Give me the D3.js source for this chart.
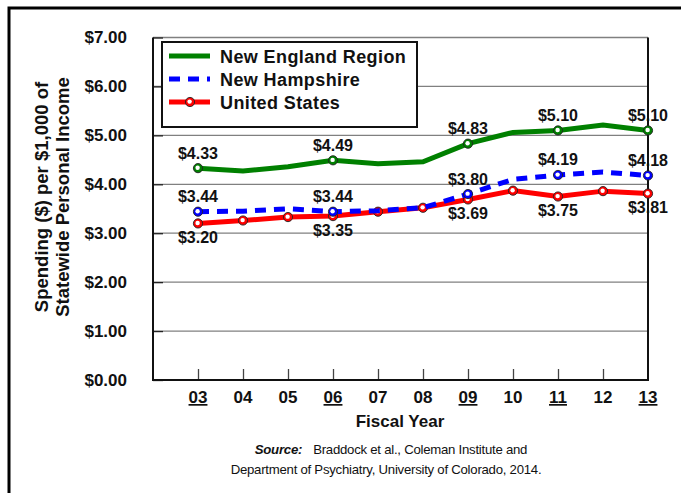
<!DOCTYPE html>
<html>
<head>
<meta charset="utf-8">
<script src="https://cdn.jsdelivr.net/npm/d3@7"></script>
<style>
  body { margin: 0; background: #fff; }
  text { font-family: Arial, "Liberation Sans", sans-serif; }
</style>
</head>
<body>
<div class="chart"></div>
<script>
// fiscal years and spending per $1,000 of personal income
var years = ["03", "04", "05", "06", "07", "08", "09", "10", "11", "12", "13"];
var underlined = ["03", "06", "09", "11", "13"];
var newEngland = [4.33, 4.27, 4.36, 4.49, 4.42, 4.46, 4.83, 5.06, 5.10, 5.21, 5.10];
var newHampshire = [3.44, 3.45, 3.50, 3.44, 3.46, 3.52, 3.80, 4.10, 4.19, 4.25, 4.18];
var unitedStates = [3.20, 3.26, 3.33, 3.35, 3.44, 3.52, 3.69, 3.87, 3.75, 3.86, 3.81];
var yTicks = [0, 1, 2, 3, 4, 5, 6, 7];
var labelled = [0, 3, 6, 8, 10];

var width = 681, height = 493;

var svg = d3.select(".chart").append("svg")
  .attr("width", width)
  .attr("height", height);

// outer frame runs off the right / bottom of the picture
svg.append("rect")
  .attr("x", 9).attr("y", 8)
  .attr("width", 720).attr("height", 520)
  .attr("fill", "white")
  .attr("stroke", "black")
  .attr("stroke-width", 3);

var x = d3.scaleLinear().domain([-1, 10]).range([153, 648]);
var y = d3.scaleLinear().domain([0, 7]).range([380, 37.5]);

// gridlines
svg.selectAll(".grid")
  .data(yTicks.slice(1))
  .enter().append("line")
  .attr("x1", x(-1)).attr("x2", x(10))
  .attr("y1", function(d) { return y(d); })
  .attr("y2", function(d) { return y(d); })
  .attr("stroke", "#808080")
  .attr("stroke-width", 1.3);

// y axis
var yAxis = svg.append("g")
  .attr("transform", "translate(" + x(-1) + ",0)")
  .call(d3.axisLeft(y).tickValues(yTicks).tickSize(-10).tickPadding(26)
    .tickFormat(function(d) { return "$" + d.toFixed(2); }));
yAxis.select(".domain").remove();
yAxis.selectAll(".tick line").attr("stroke", "#222").attr("stroke-width", 1.3);
yAxis.selectAll("text")
  .attr("font-size", 17).attr("font-weight", "bold").attr("fill", "#111")
  .style("font-family", "Arial, 'Liberation Sans', sans-serif");

// x axis
var xAxis = svg.append("g")
  .attr("transform", "translate(0," + y(0) + ")")
  .call(d3.axisBottom(x).tickValues(d3.range(0, 10)).tickSize(-11).tickFormat(""));
xAxis.select(".domain").remove();
xAxis.selectAll(".tick line").attr("stroke", "#444").attr("stroke-width", 1.3);

svg.selectAll(".xlab")
  .data(years)
  .enter().append("text")
  .attr("x", function(d, i) { return x(i); })
  .attr("y", 403)
  .attr("text-anchor", "middle")
  .attr("font-size", 17).attr("font-weight", "bold").attr("fill", "#111")
  .style("text-decoration", function(d) { return underlined.indexOf(d) >= 0 ? "underline" : "none"; })
  .text(function(d) { return d; });

// plot frame
svg.append("path")
  .attr("d", "M" + x(-1) + "," + y(7) + "V" + y(0) + "H" + x(10) + "V" + y(7))
  .attr("fill", "none")
  .attr("stroke", "#111")
  .attr("stroke-width", 2);

// series
var series = [
  { name: "United States", values: unitedStates, color: "#ff0000", dash: null, marks: d3.range(0, 11), below: true },
  { name: "New Hampshire", values: newHampshire, color: "#0000ff", dash: "11,8", marks: labelled, below: false },
  { name: "New England Region", values: newEngland, color: "#008000", dash: null, marks: labelled, below: false }
];

var line = d3.line()
  .x(function(d, i) { return x(i); })
  .y(function(d) { return y(d); });

function marker(g, cx, cy, color) {
  g.append("circle").attr("cx", cx).attr("cy", cy).attr("r", 4.6)
    .attr("fill", color).attr("stroke", "#222").attr("stroke-width", 0.9);
  g.append("circle").attr("cx", cx - 0.4).attr("cy", cy - 0.4).attr("r", 2.2)
    .attr("fill", "white");
}

series.forEach(function(s) {
  var g = svg.append("g");
  g.append("path")
    .attr("d", line(s.values))
    .attr("fill", "none")
    .attr("stroke", s.color)
    .attr("stroke-width", 5)
    .attr("stroke-dasharray", s.dash);
  s.marks.forEach(function(i) {
    marker(g, x(i), y(s.values[i]), s.color);
  });
});

series.forEach(function(s) {
  svg.selectAll(null)
    .data(labelled)
    .enter().append("text")
    .attr("x", function(i) { return x(i); })
    .attr("y", function(i) { return y(s.values[i]) + (s.below ? 19.5 : -9.5); })
    .attr("text-anchor", "middle")
    .attr("font-size", 16).attr("font-weight", "bold").attr("fill", "#111")
    .text(function(i) { return "$" + s.values[i].toFixed(2); });
});

// legend
var legend = svg.append("g");
legend.append("rect")
  .attr("x", 162).attr("y", 42).attr("width", 255).attr("height", 85)
  .attr("fill", "white").attr("stroke", "#111").attr("stroke-width", 2);

var legendRows = series.slice().reverse();
legendRows.forEach(function(s, k) {
  var ly = 56 + k * 23;
  legend.append("line")
    .attr("x1", 169).attr("x2", 210).attr("y1", ly).attr("y2", ly)
    .attr("stroke", s.color).attr("stroke-width", 5)
    .attr("stroke-dasharray", s.dash);
  if (s.name === "United States") marker(legend, 190, ly, s.color);
  legend.append("text")
    .attr("x", 220).attr("y", ly + 6.5)
    .attr("font-size", 18).attr("font-weight", "bold").attr("fill", "#111")
    .attr("letter-spacing", 0.4)
    .text(s.name);
});

// axis titles
svg.append("text")
  .attr("transform", "translate(48,197) rotate(-90)")
  .attr("text-anchor", "middle")
  .attr("font-size", 18.5).attr("font-weight", "bold").attr("fill", "#111")
  .text("Spending ($) per $1,000 of");
svg.append("text")
  .attr("transform", "translate(69,197) rotate(-90)")
  .attr("text-anchor", "middle")
  .attr("font-size", 18.5).attr("font-weight", "bold").attr("fill", "#111")
  .text("Statewide Personal Income");

svg.append("text")
  .attr("x", 400).attr("y", 427)
  .attr("text-anchor", "middle")
  .attr("font-size", 17).attr("font-weight", "bold").attr("fill", "#111")
  .text("Fiscal Year");

// source note
var src = svg.append("text")
  .attr("x", 391).attr("y", 454)
  .attr("text-anchor", "middle")
  .attr("font-size", 13.2).attr("fill", "#111")
  .attr("letter-spacing", -0.25);
src.append("tspan").attr("font-weight", "bold").attr("font-style", "italic").text("Source:");
src.append("tspan").attr("dx", 11).text("Braddock et al., Coleman Institute and");

svg.append("text")
  .attr("x", 386).attr("y", 474)
  .attr("text-anchor", "middle")
  .attr("font-size", 13.2).attr("fill", "#111")
  .attr("letter-spacing", -0.25)
  .text("Department of Psychiatry, University of Colorado, 2014.");
</script>
</body>
</html>
